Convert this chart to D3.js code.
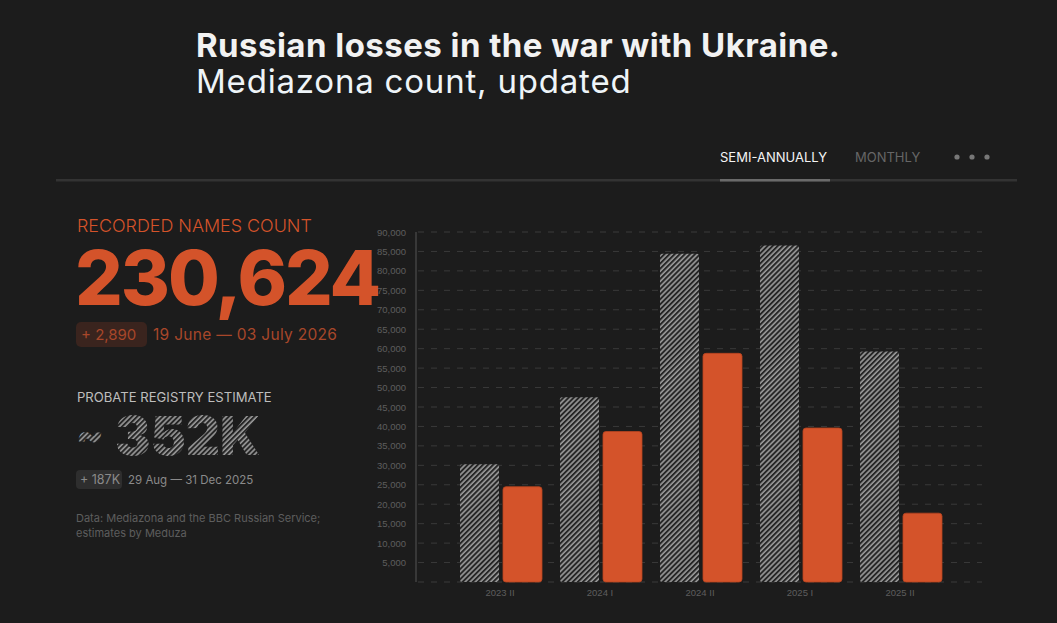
<!DOCTYPE html>
<html>
<meta charset="utf-8">
<head>
<style>
    body { margin: 0; background: #1c1c1c; }
    svg { display: block; font-family: Inter, "Noto Sans", sans-serif; }
    .axis text { fill: #5e5e5e; font-size: 9.5px; }
    .axis path, .axis line { stroke: #555; }
</style>
</head>
<body>
<script src="https://d3js.org/d3.v7.min.js"></script>
<script>
    // data
    const periods = ["2023 II", "2024 I", "2024 II", "2025 I", "2025 II"];
    const estimate = [30300, 47500, 84400, 86500, 59300];
    const recorded = [24500, 38700, 58800, 39600, 17700];
    const yTicks = [5000, 10000, 15000, 20000, 25000, 30000, 35000, 40000, 45000,
                    50000, 55000, 60000, 65000, 70000, 75000, 80000, 85000, 90000];

    const W = 1057, H = 623;
    const orange = "#d4532a";

    const svg = d3.select("body").append("svg")
        .attr("width", W)
        .attr("height", H);

    svg.append("rect").attr("width", W).attr("height", H).attr("fill", "#1c1c1c");

    // hatch pattern
    const defs = svg.append("defs");
    const pat = defs.append("pattern")
        .attr("id", "hatch")
        .attr("patternUnits", "userSpaceOnUse")
        .attr("width", 3.6).attr("height", 3.6)
        .attr("patternTransform", "rotate(45)");
    pat.append("rect").attr("width", 3.6).attr("height", 3.6).attr("fill", "#262626");
    pat.append("line")
        .attr("x1", 1).attr("y1", 0).attr("x2", 1).attr("y2", 3.6)
        .attr("stroke", "#9a9a9a").attr("stroke-width", 1.6);

    // title
    svg.append("text")
        .attr("x", 196).attr("y", 57)
        .attr("fill", "#f2f2f2")
        .style("font-size", "33px").style("font-weight", 700)
        .style("letter-spacing", "0.45px")
        .text("Russian losses in the war with Ukraine.");
    svg.append("text")
        .attr("x", 196).attr("y", 93)
        .attr("fill", "#eef4f8")
        .style("font-size", "33px").style("font-weight", 400)
        .style("letter-spacing", "0.8px")
        .text("Mediazona count, updated");

    // tabs
    svg.append("rect").attr("x", 56).attr("y", 179).attr("width", 961).attr("height", 2.5).attr("fill", "#333");
    svg.append("rect").attr("x", 720).attr("y", 179).attr("width", 110).attr("height", 2.5).attr("fill", "#6a6a6a");
    svg.append("text").attr("x", 720).attr("y", 162)
        .attr("fill", "#f4f4f4").style("font-size", "13px")
        .text("SEMI-ANNUALLY");
    svg.append("text").attr("x", 855).attr("y", 162)
        .attr("fill", "#666").style("font-size", "13px")
        .text("MONTHLY");
    svg.selectAll(".dot").data([957, 972, 987]).join("circle")
        .attr("cx", d => d).attr("cy", 157).attr("r", 2.6).attr("fill", "#777");

    // left column
    svg.append("text").attr("x", 77).attr("y", 232)
        .attr("fill", orange).style("font-size", "17.9px").style("font-weight", 300)
        .text("RECORDED NAMES COUNT");
    svg.append("text").attr("x", 75).attr("y", 305)
        .attr("fill", orange).style("font-size", "75px").style("font-weight", 800)
        .style("letter-spacing", "-2.1px")
        .text("230,624");
    svg.append("rect").attr("x", 76).attr("y", 322).attr("width", 71).attr("height", 25)
        .attr("rx", 5).attr("fill", "#3a241e");
    svg.append("text").attr("x", 81).attr("y", 340)
        .attr("fill", "#a8472a").style("font-size", "15px")
        .text("+ 2,890");
    svg.append("text").attr("x", 153).attr("y", 340)
        .attr("fill", "#a8472a").style("font-size", "15.5px")
        .style("letter-spacing", "0.3px")
        .text("19 June \u2014 03 July 2026");

    svg.append("text").attr("x", 77).attr("y", 402)
        .attr("fill", "#bdbdbd").style("font-size", "13.1px")
        .text("PROBATE REGISTRY ESTIMATE");
    svg.append("text").attr("x", 76).attr("y", 449)
        .attr("fill", "url(#hatch)").style("font-size", "40px").style("font-weight", 900)
        .text("~");
    svg.append("text").attr("x", 115).attr("y", 455)
        .attr("fill", "url(#hatch)").style("font-size", "53px").style("font-weight", 900)
        .text("352K");
    svg.append("rect").attr("x", 76).attr("y", 470).attr("width", 46).attr("height", 19)
        .attr("rx", 4).attr("fill", "#2e2e2e");
    svg.append("text").attr("x", 80).attr("y", 484)
        .attr("fill", "#8a8a8a").style("font-size", "12.5px")
        .text("+ 187K");
    svg.append("text").attr("x", 128).attr("y", 484)
        .attr("fill", "#8a8a8a").style("font-size", "11.5px")
        .text("29 Aug \u2014 31 Dec 2025");
    svg.append("text").attr("x", 76).attr("y", 522)
        .attr("fill", "#5e5e5e").style("font-size", "11px")
        .text("Data: Mediazona and the BBC Russian Service;");
    svg.append("text").attr("x", 76).attr("y", 537)
        .attr("fill", "#5e5e5e").style("font-size", "11px")
        .text("estimates by Meduza");

    // chart
    const y = d3.scaleLinear().domain([0, 90000]).range([582, 232]);
    const x = d3.scaleBand().domain(periods).range([450, 950]).padding(0);
    const xi = d3.scaleBand().domain(["est", "rec"]).range([10, 92]).paddingInner(0.093);

    // grid
    svg.append("g").selectAll("line")
        .data([0].concat(yTicks))
        .join("line")
        .attr("x1", 418).attr("x2", 982)
        .attr("y1", d => y(d)).attr("y2", d => y(d))
        .attr("stroke", "#3a3a3a")
        .attr("stroke-dasharray", "6,7");

    const yAxis = svg.append("g")
        .attr("class", "axis")
        .attr("transform", "translate(416,0)")
        .call(d3.axisLeft(y).tickValues(yTicks).tickSize(0).tickPadding(10).tickFormat(d3.format(",")));
    yAxis.select(".domain").attr("d", "M0,232V582");

    const xAxis = svg.append("g")
        .attr("class", "axis")
        .attr("transform", "translate(0,582)")
        .call(d3.axisBottom(x).tickSize(0).tickPadding(7));
    xAxis.select(".domain").remove();

    const groups = svg.append("g").selectAll("g")
        .data(periods)
        .join("g")
        .attr("transform", d => "translate(" + x(d) + ",0)");

    groups.append("rect")
        .attr("x", xi("est"))
        .attr("width", xi.bandwidth())
        .attr("y", (d, i) => y(estimate[i]))
        .attr("height", (d, i) => y(0) - y(estimate[i]))
        .attr("rx", 2)
        .attr("fill", "url(#hatch)");

    groups.append("rect")
        .attr("x", xi("rec"))
        .attr("width", xi.bandwidth())
        .attr("y", (d, i) => y(recorded[i]))
        .attr("height", (d, i) => y(0) - y(recorded[i]))
        .attr("rx", 3)
        .attr("fill", orange)
        .attr("stroke", "#b8441f")
        .attr("stroke-width", 0.8);
</script>
</body>
</html>
